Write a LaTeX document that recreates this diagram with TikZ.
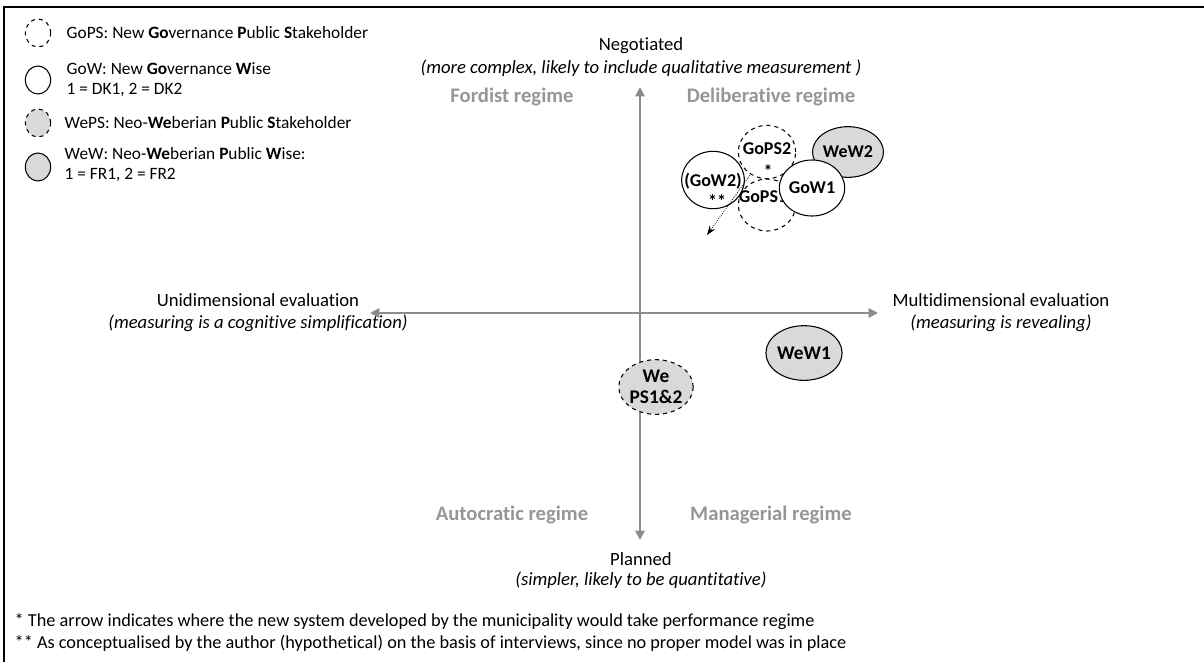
\documentclass[tikz,border=0pt]{standalone}
\usepackage{fontspec}
\setmainfont{Carlito}[Ligatures=NoCommon]
\usepackage{tikz}
\usetikzlibrary{arrows.meta}
\usetikzlibrary{shapes.geometric}

\definecolor{axisgray}{RGB}{140,140,140}
\definecolor{regimegray}{RGB}{150,150,150}
\definecolor{bubblegray}{RGB}{217,217,217}

\begin{document}
\begin{tikzpicture}[x=0.75pt,y=0.75pt,yscale=-1,xscale=1,
  every node/.style={font=\fontsize{13}{15}\selectfont},
  axislabel/.style={font=\fontsize{14}{16.5}\selectfont},
  axisline/.style={draw=axisgray,line width=1.5pt,{Triangle[length=7pt,width=7pt]}-{Triangle[length=7pt,width=7pt]}},
  regime/.style={text=regimegray,font=\fontsize{15.5}{17}\selectfont\bfseries},
  bubble/.style={ellipse,draw,line width=0.8pt,fill=white,inner sep=0pt,font=\fontsize{13.5}{15}\selectfont\bfseries},
  bubbleps/.style={bubble,dashed},
  bubbletext/.style={font=\fontsize{13.5}{15}\selectfont\bfseries},
  footnote/.style={anchor=west,font=\fontsize{13.7}{15}\selectfont},
  legendmark/.style={ellipse,draw,line width=0.8pt,inner sep=0pt,minimum width=19pt,minimum height=21pt}
]
\useasboundingbox (0,0) rectangle (1204,662);

%Frame
\draw[line width=1pt] (4,662) -- (4,7) -- (1204,7);

%Shape: Legend marks
\draw (38,33) node[legendmark,dashed] (lgops) {};
\draw (38,80) node[legendmark] (lgow) {};
\draw (38,123) node[legendmark,dashed,fill=bubblegray] (lweps) {};
\draw (38,167) node[legendmark,fill=bubblegray] (lwew) {};

% Text Node
\draw (62,33) node[anchor=west] (tgops) {GoPS: New \textbf{Go}vernance \textbf{P}ublic \textbf{S}takeholder};
% Text Node
\draw (62,80) node[anchor=west,align=left] (tgow) {GoW: New \textbf{Go}vernance \textbf{W}ise\\1 = DK1, 2 = DK2};
% Text Node
\draw (60,123) node[anchor=west] (tweps) {WePS: Neo-\textbf{We}berian \textbf{P}ublic \textbf{S}takeholder};
% Text Node
\draw (60,165) node[anchor=west,align=left] (twew) {WeW: Neo-\textbf{We}berian \textbf{P}ublic \textbf{W}ise:\\1 = FR1, 2 = FR2};

%Axes
\coordinate (vtop) at (640,87);
\coordinate (vbot) at (640,540);
\coordinate (hleft) at (370,313);
\coordinate (hright) at (878,313);
\draw[axisline] (vbot) -- (vtop);
\draw[axisline] (hleft) -- (hright);

% Text Node
\draw (641,46) node[axislabel] (negotiated) {Negotiated};
\draw (641,68) node[axislabel] (negotnote) {\textit{(more complex, likely to include qualitative measurement )}};
% Text Node
\draw (641,559) node[axislabel] (planned) {Planned};
\draw (641,580) node[axislabel] (plannote) {\textit{(simpler, likely to be quantitative)}};
% Text Node
\draw (258,313) node[axislabel,align=center] (unidim) {Unidimensional evaluation\\\textit{(measuring is a cognitive simplification)}};
% Text Node
\draw (1001,313) node[axislabel,align=center] (multidim) {Multidimensional evaluation\\\textit{(measuring is revealing)}};

% Text Node
\draw (512,97) node[regime] (fordist) {Fordist regime};
\draw (771,97) node[regime] (deliberative) {Deliberative regime};
\draw (512,515) node[regime] (autocratic) {Autocratic regime};
\draw (771,515) node[regime] (managerial) {Managerial regime};

%Shape: Bubbles
\draw (767,205) node[bubbleps,minimum width=43pt,minimum height=39pt] (gops1) {};
\draw (763,197) node[bubbletext] (gops1lbl) {GoPS1};
\draw (767,152) node[bubbleps,minimum width=43pt,minimum height=40pt] (gops2) {};
\draw (767,149) node[bubbletext] (gops2lbl) {GoPS2};
\draw (768,171) node[bubbletext] (gops2star) {*};
\draw (848,152) node[bubble,fill=bubblegray,minimum width=45pt,minimum height=38pt] (wew2) {WeW2};
\draw (812,188) node[bubble,minimum width=41pt,minimum height=42pt] (gow1) {GoW1};
\draw (713,180) node[bubble,minimum width=47pt,minimum height=43pt] (gow2) {};
\draw (713,181) node[bubbletext] (gow2lbl) {(GoW2)};
\draw (717,201) node[bubbletext] (gow2stars) {**};
\draw (804,353) node[bubble,fill=bubblegray,minimum width=45pt,minimum height=41pt,font=\fontsize{14.5}{16}\selectfont\bfseries] (wew1) {WeW1};
\draw (656,387) node[bubbleps,fill=bubblegray,minimum width=45pt,minimum height=41pt,align=center,font=\fontsize{14.5}{16}\selectfont\bfseries] (weps) {We\\PS1\&2};

%Arrow
\coordinate (shiftfrom) at (750,175);
\coordinate (shiftto) at (707,235);
\draw[densely dotted,line width=0.6pt,-{Stealth[length=7pt,width=5pt]}] (shiftfrom) -- (shiftto);

% Text Node
\draw (10,622) node[footnote] (note1) {* The arrow indicates where the new system developed by the municipality would take performance regime};
\draw (10,643) node[footnote] (note2) {** As conceptualised by the author (hypothetical) on the basis of interviews, since no proper model was in place};

\end{tikzpicture}
\end{document}
